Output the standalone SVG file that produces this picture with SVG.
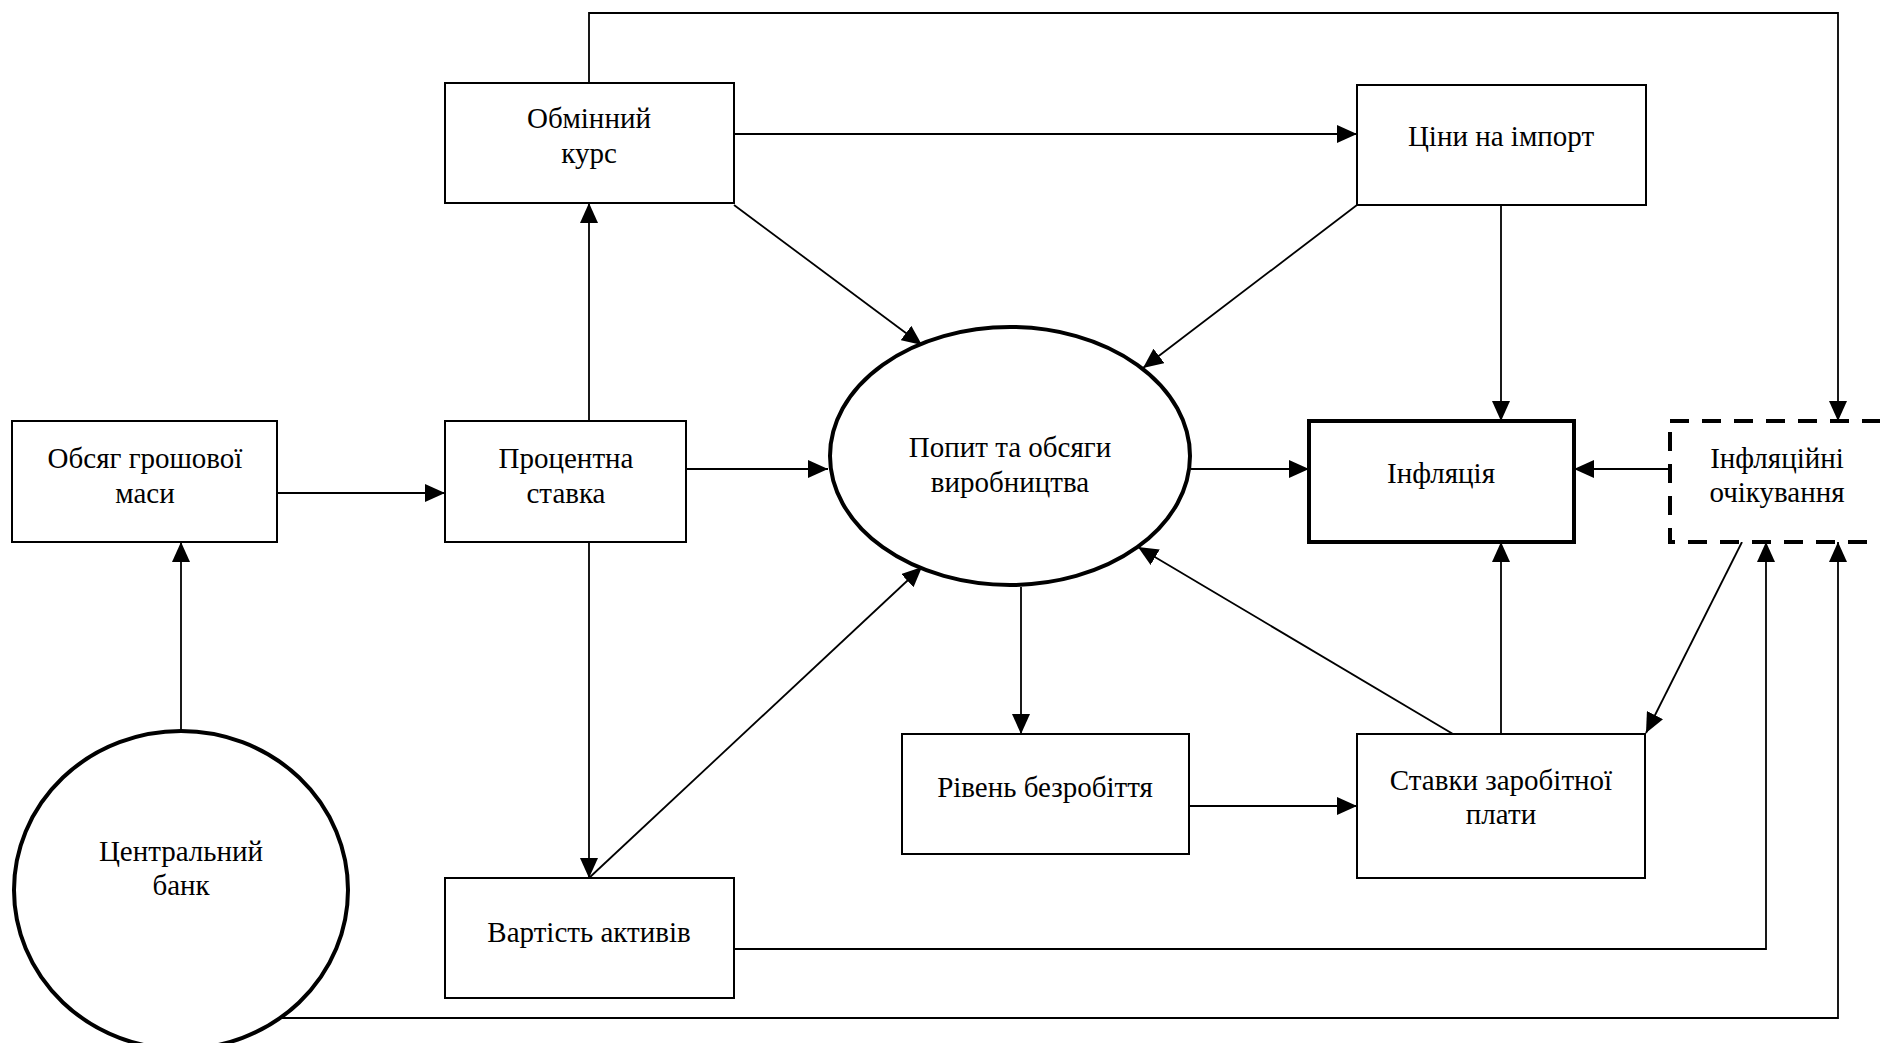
<svg xmlns="http://www.w3.org/2000/svg" width="1880" height="1043" viewBox="0 0 1880 1043">
<style>
.box{fill:#fff;stroke:#000;stroke-width:2}
.thick{fill:#fff;stroke:#000;stroke-width:4}
.dash{fill:#fff;stroke:#000;stroke-width:4;stroke-dasharray:19 13}
.conn{fill:none;stroke:#000;stroke-width:1.8}
text{font-family:"Liberation Serif","Times New Roman",serif;font-size:29px;fill:#000;text-anchor:middle}
</style>
<defs>
<marker id="arr" markerUnits="userSpaceOnUse" markerWidth="20" markerHeight="18" refX="20" refY="9" orient="auto">
<path d="M0,0 L20,9 L0,18 Z" fill="#000"/>
</marker>
</defs>
<rect width="1880" height="1043" fill="#fff"/>
<g id="connectors" class="conn" marker-end="url(#arr)">
<path class="conn" d="M277,493 H445" marker-end="url(#arr)"/>
<path class="conn" d="M181,731 V542" marker-end="url(#arr)"/>
<path class="conn" d="M589,421 V203" marker-end="url(#arr)"/>
<path class="conn" d="M589,542 V878" marker-end="url(#arr)"/>
<path class="conn" d="M686,469 H828" marker-end="url(#arr)"/>
<path class="conn" d="M734,134 H1357" marker-end="url(#arr)"/>
<path class="conn" d="M734,205 L922,345" marker-end="url(#arr)"/>
<path class="conn" d="M1357,205 L1143,368" marker-end="url(#arr)"/>
<path class="conn" d="M1501,205 V421" marker-end="url(#arr)"/>
<path class="conn" d="M1191,469 H1309" marker-end="url(#arr)"/>
<path class="conn" d="M1670,469 H1574" marker-end="url(#arr)"/>
<path class="conn" d="M589,83 V13 H1838 V421" marker-end="url(#arr)"/>
<path class="conn" d="M1021,587 V734" marker-end="url(#arr)"/>
<path class="conn" d="M1189,806 H1357" marker-end="url(#arr)"/>
<path class="conn" d="M1501,734 V542" marker-end="url(#arr)"/>
<path class="conn" d="M1453,734 L1138,547" marker-end="url(#arr)"/>
<path class="conn" d="M1742,542 L1646,733" marker-end="url(#arr)"/>
<path class="conn" d="M734,949 H1766 V542" marker-end="url(#arr)"/>
<path class="conn" d="M277,1018 H1838 V542" marker-end="url(#arr)"/>
<path class="conn" d="M589,878 L922,567" marker-end="url(#arr)"/>
</g>
<g id="obsyag">
<rect class="box" x="12" y="421" width="265" height="121"/>
<text x="145" y="468">Обсяг грошової</text>
<text x="145" y="503">маси</text>
</g>
<g id="protsentna">
<rect class="box" x="445" y="421" width="241" height="121"/>
<text x="566" y="468">Процентна</text>
<text x="566" y="503">ставка</text>
</g>
<g id="obminnyi">
<rect class="box" x="445" y="83" width="289" height="120"/>
<text x="589" y="128">Обмінний</text>
<text x="589" y="163">курс</text>
</g>
<g id="tsiny">
<rect class="box" x="1357" y="85" width="289" height="120"/>
<text x="1501" y="146">Ціни на імпорт</text>
</g>
<g id="popyt">
<ellipse class="thick" cx="1010" cy="456" rx="180" ry="129"/>
<text x="1010" y="457">Попит та обсяги</text>
<text x="1010" y="492">виробництва</text>
</g>
<g id="infliatsiia">
<rect class="thick" x="1309" y="421" width="265" height="121"/>
<text x="1441" y="483">Інфляція</text>
</g>
<g id="ochikuvannia">
<rect class="dash" x="1670" y="421" width="230" height="121"/>
<text x="1777" y="468">Інфляційні</text>
<text x="1777" y="502">очікування</text>
</g>
<g id="tsentralnyi">
<ellipse class="thick" cx="181" cy="890" rx="167" ry="159"/>
<text x="181" y="861">Центральний</text>
<text x="181" y="895">банк</text>
</g>
<g id="vartist">
<rect class="box" x="445" y="878" width="289" height="120"/>
<text x="589" y="942">Вартість активів</text>
</g>
<g id="riven">
<rect class="box" x="902" y="734" width="287" height="120"/>
<text x="1045" y="797">Рівень безробіття</text>
</g>
<g id="stavky">
<rect class="box" x="1357" y="734" width="288" height="144"/>
<text x="1501" y="790">Ставки заробітної</text>
<text x="1501" y="824">плати</text>
</g>
</svg>
